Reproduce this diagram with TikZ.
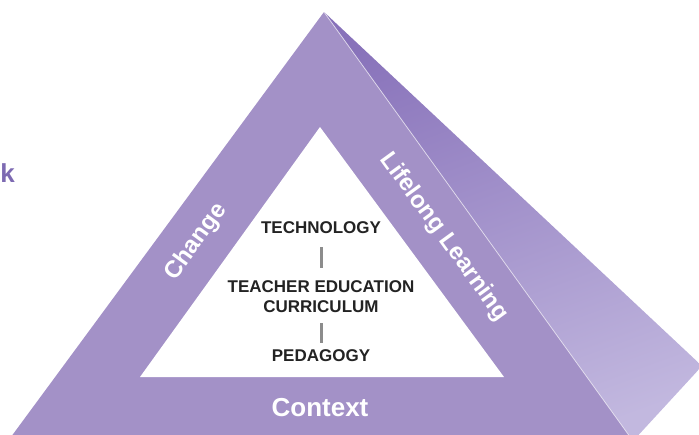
\documentclass[tikz,border=0pt]{standalone}
\usepackage{fontspec}
\setmainfont{Liberation Sans}
\usetikzlibrary{positioning,calc}

\definecolor{facepurple}{RGB}{163,145,199}
\definecolor{sidedark}{RGB}{136,114,186}
\definecolor{sidelight}{RGB}{194,184,223}
\definecolor{titlepurple}{RGB}{125,106,178}
\definecolor{innertext}{RGB}{35,35,35}
\definecolor{bargray}{RGB}{140,140,140}

\begin{document}
\begin{tikzpicture}[x=1pt, y=-1pt,
    % Node styles
    conceptbox/.style={font=\fontsize{17}{20}\selectfont\bfseries, text=innertext,
                       align=center, inner sep=0pt},
    edgelabel/.style={font=\fontsize{24}{28}\selectfont\bfseries, text=white,
                      inner sep=0pt},
    bottomlabel/.style={font=\fontsize{26}{31}\selectfont\bfseries, text=white,
                        inner sep=0pt},
    heading/.style={font=\fontsize{26}{30}\selectfont\bfseries, text=titlepurple,
                    inner sep=0pt},
    bar/.style={line width=3pt, bargray},
    fold/.style={white, opacity=0.6, line width=0.8pt}
]

\useasboundingbox (0,0) rectangle (699,434);

% Corners of the prism
\coordinate (apex) at (324,12);
\coordinate (cornerL) at (8,441);
\coordinate (cornerR) at (633,441);
\coordinate (tip) at (702,366);
\coordinate (innerTop) at (320,127);
\coordinate (innerL) at (140,377);
\coordinate (innerR) at (504,377);

% 1. Side face (shaded)
\begin{scope}
    \clip (apex) -- (tip) -- (cornerR) -- cycle;
    \shade[top color=sidedark, bottom color=sidelight, shading angle=20]
        (300,0) rectangle (720,450);
\end{scope}

% 2. Front face with white window
\fill[facepurple] (apex) -- (cornerL) -- (cornerR) -- cycle;
\fill[white] (innerTop) -- (innerL) -- (innerR) -- cycle;
\draw[fold] (apex) -- (cornerR);

% 3. Labels along the edges
\node[edgelabel, rotate=54] (change) at (196,242) {Change};
\node[edgelabel, rotate=-54] (lifelong) at (444,237) {Lifelong Learning};
\node[bottomlabel, anchor=base] (context) at (320,416) {Context};

% 4. Inside the triangle
\node[conceptbox, anchor=base] (technology) at (321,233) {TECHNOLOGY};
\node[conceptbox] (curriculum) at (321,297) {TEACHER EDUCATION\\CURRICULUM};
\node[conceptbox, anchor=base] (pedagogy) at (321,361) {PEDAGOGY};

\draw[bar, shorten <=14pt, shorten >=13pt] (technology) -- (curriculum);
\draw[bar, shorten <=10pt, shorten >=6pt] (curriculum) -- (pedagogy);

% Title remnant on the left
\node[heading, anchor=base east] (titletail) at (15,182) {k};

\end{tikzpicture}
\end{document}
